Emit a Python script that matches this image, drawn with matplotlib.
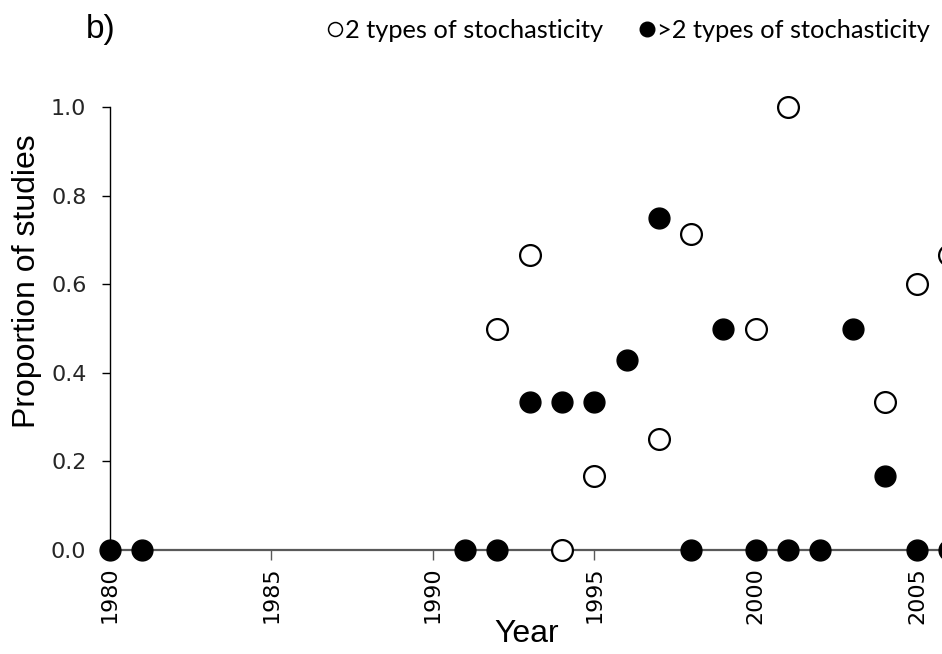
import matplotlib
matplotlib.use("Agg")
import matplotlib.pyplot as plt
from matplotlib.lines import Line2D

# proportion of studies per year, by number of stochasticity types
years_two = [1992, 1993, 1994, 1995, 1997, 1998, 2000, 2001, 2004, 2005, 2006]
prop_two = [0.5, 0.667, 0.0, 0.167, 0.25, 0.714, 0.5, 1.0, 0.333, 0.6, 0.667]

years_more = [1980, 1981, 1991, 1992, 1993, 1994, 1995, 1996, 1997, 1998,
              1999, 2000, 2001, 2002, 2003, 2004, 2005, 2006]
prop_more = [0.0, 0.0, 0.0, 0.0, 0.333, 0.333, 0.333, 0.429, 0.75, 0.0,
             0.5, 0.0, 0.0, 0.0, 0.5, 0.167, 0.0, 0.0]

year_ticks = [1980, 1985, 1990, 1995, 2000, 2005]
prop_ticks = [0.0, 0.2, 0.4, 0.6, 0.8, 1.0]

fig = plt.figure(figsize=(9.42, 6.54), dpi=100)
ax = fig.add_axes([0.1168, 0.159, 0.8832, 0.6774])

ax.plot(years_two, prop_two, 'o', ms=15, mfc='white', mec='black', mew=1.6,
        clip_on=False, zorder=3)
ax.plot(years_more, prop_more, 'o', ms=15, mfc='black', mec='black', mew=1.0,
        clip_on=False, zorder=4)

ax.set_xlim(1980, 2005.77)
ax.set_ylim(0, 1.0)
ax.set_xticks(year_ticks)
ax.set_yticks(prop_ticks)
ax.set_xticklabels([str(y) for y in year_ticks], rotation=90)
ax.set_yticklabels(['%.1f' % p for p in prop_ticks])

for s in ['top', 'right']:
    ax.spines[s].set_visible(False)
ax.spines['left'].set_color('black')
ax.spines['left'].set_linewidth(1.0)
ax.spines['bottom'].set_color('#595959')
ax.spines['bottom'].set_linewidth(1.6)

ax.tick_params(axis='y', direction='out', length=6, width=1, color='black',
               pad=11, labelsize=16, labelcolor='#262626')
ax.tick_params(axis='x', direction='out', length=7, width=1, color='#595959',
               pad=5, labelsize=16, labelcolor='black')

ax.set_ylabel('Proportion of studies', fontsize=23, family='Liberation Sans')
ax.yaxis.set_label_coords(-0.082, 0.607)
ax.set_xlabel('Year', fontsize=23, family='Liberation Sans')
ax.xaxis.set_label_coords(0.501, -0.155)

fig.text(0.091, 0.955, 'b)', fontsize=24, family='Liberation Sans',
         ha='left', va='center')

handles = [
    Line2D([], [], ls='none', marker='o', ms=10, mfc='white', mec='black', mew=1.1),
    Line2D([], [], ls='none', marker='o', ms=10.5, mfc='black', mec='black'),
]
fig.legend(handles, ['2 types of stochasticity', '>2 types of stochasticity'],
           loc='center left', bbox_to_anchor=(0.3489, 0.954), ncol=2,
           frameon=False, handlelength=0.5, handletextpad=0.16,
           columnspacing=1.45, borderaxespad=0, borderpad=0,
           prop={'family': 'Lato', 'size': 18.3})

fig.savefig('out.png', dpi=100)
